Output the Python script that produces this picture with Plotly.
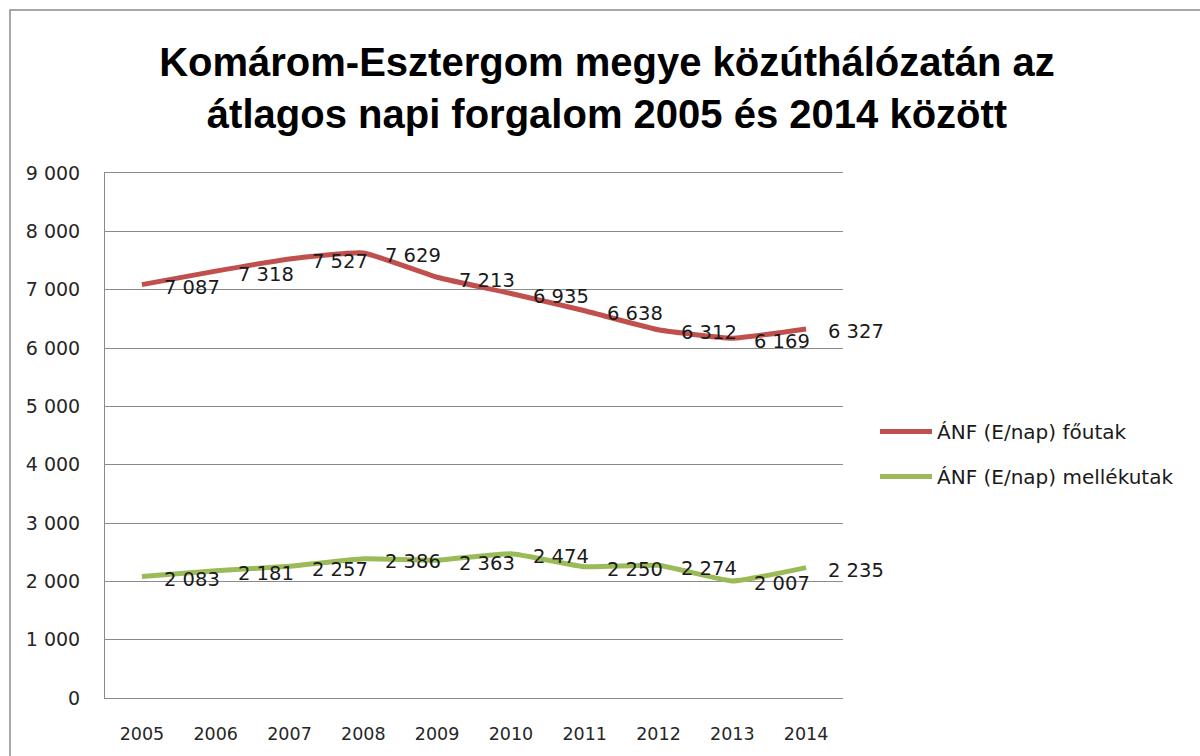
import plotly.graph_objects as go

years = [2005, 2006, 2007, 2008, 2009, 2010, 2011, 2012, 2013, 2014]
fout = [7087, 7318, 7527, 7629, 7213, 6935, 6638, 6312, 6169, 6327]
mellek = [2083, 2181, 2257, 2386, 2363, 2474, 2250, 2274, 2007, 2235]
series_names = ["ÁNF (E/nap) főutak", "ÁNF (E/nap) mellékutak"]
series_colors = ["#C0504D", "#9BBB59"]
y_ticks = [0, 1000, 2000, 3000, 4000, 5000, 6000, 7000, 8000, 9000]
title_text = "Komárom-Esztergom megye közúthálózatán az<br>átlagos napi forgalom 2005 és 2014 között"


def fmt(v):
    return f"{v:,}".replace(",", " ")


FONT = "DejaVu Sans"
fig = go.Figure()
annotations = []
for name, vals, col, grp in zip(series_names, [fout, mellek], series_colors, ["a", "b"]):
    fig.add_trace(go.Scatter(
        x=years, y=vals, name=name, mode="lines",
        line=dict(color=col, width=5, shape="spline", smoothing=0.4),
        legendgroup=grp,
    ))
    for xv, yv in zip(years, vals):
        annotations.append(dict(
            x=xv, y=yv, xref="x", yref="y", text=fmt(yv), showarrow=False,
            xanchor="left", yanchor="middle", xshift=20, yshift=-3,
            font=dict(family=FONT, size=19.5, color="#1a1a1a"),
        ))

# outer chart border
L, R, T, B = 105, 843, 173, 698
W, H = R - L, B - T
fig.add_shape(type="rect", xref="paper", yref="paper",
              x0=(10 - L) / W, x1=(1210 - L) / W, y0=(B - 770) / H, y1=(B - 10) / H,
              line=dict(color="#8c8c8c", width=1.5), fillcolor="rgba(0,0,0,0)", layer="below")

fig.update_layout(
    width=1200, height=756,
    margin=dict(l=L, r=1200 - R, t=T, b=756 - B),
    paper_bgcolor="white", plot_bgcolor="white",
    title=dict(text=title_text, x=607 / 1200, xref="container", xanchor="center",
               y=1 - 76 / 756, yref="container", yanchor="middle",
               font=dict(family="Liberation Sans, Arial", size=40, color="#000000",
                         weight="bold")),
    showlegend=True,
    legend=dict(x=(875 - L) / W, y=(B - 412) / H, xanchor="left", yanchor="top",
                font=dict(family=FONT, size=20, color="#1a1a1a"),
                itemwidth=52, tracegroupgap=16, traceorder="grouped",
                bgcolor="rgba(0,0,0,0)"),
    annotations=annotations,
    xaxis=dict(range=[2004.5, 2014.5], tickvals=years, ticktext=[str(y) for y in years],
               showgrid=False, zeroline=False,
               showline=True, mirror=True, linecolor="#8a8a8a", linewidth=1,
               ticks="", ticklabelstandoff=20,
               tickfont=dict(family=FONT, size=17.5, color="#262626")),
    yaxis=dict(range=[0, 9000], tickvals=y_ticks, ticktext=[fmt(v) for v in y_ticks],
               showgrid=True, gridcolor="#8a8a8a", gridwidth=1, zeroline=False,
               showline=True, linecolor="#8a8a8a", linewidth=1, ticks="",
               ticklabelstandoff=20,
               tickfont=dict(family=FONT, size=19, color="#262626")),
)
fig.write_html("out.html", config={"displayModeBar": False},
               post_script="document.body.style.margin='0';")
